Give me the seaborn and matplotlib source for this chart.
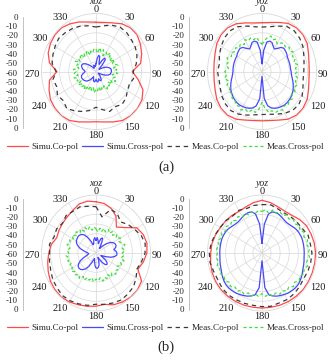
import numpy as np
import pandas as pd
import matplotlib
matplotlib.use("Agg")
import matplotlib.pyplot as plt
from matplotlib.lines import Line2D
from matplotlib.transforms import ScaledTranslation
import seaborn as sns

sns.set_style("white")
plt.rcParams['font.family'] = ['Liberation Serif', 'DejaVu Serif']

# ---------------- data (dB) ----------------
ANG10 = list(range(0, 360, 10))
ANG5 = list(range(0, 360, 5))
THETA_TICKS = list(range(0, 360, 30))

# (a) xoz
a_xoz_simu_co = [-9, -8.5, -6.5, -3, -1, -1, -3.5, -6.5, -10, -20, -13, -5, -1.5, -0.5, -0.5, -1.5, -4.5, -7,
                 -8, -7, -4.5, -1.5, -0.5, -1, -2, -5, -8, -17, -8, -4, -2, -1, -1, -3, -5.5, -8]
a_xoz_meas_co = [-14, -12, -9, -7, -7.5, -9, -10, -12, -15, -19, -18, -21, -20, -17, -15.5, -18, -16, -20,
                 -23, -19, -16, -13, -10, -13, -11, -14, -12, -16, -11, -9.5, -8, -6.5, -7.5, -8.5, -10, -12]
a_xoz_simu_x = [-52, -47, -43, -44, -50, -52, -47, -43, -44, -50, -55, -56, -54, -50, -47, -45, -43.5, -43,
                -43, -43.5, -44, -46, -49, -53, -56, -57, -56, -54, -52, -50, -49, -50, -52, -50, -49, -50,
                -52, -50, -49, -50, -52, -54, -53, -50, -48, -46, -45, -44, -43.5, -43, -43, -43.5, -45, -47,
                -48, -47, -45, -44, -43, -43, -44, -46, -49, -52, -54, -56, -56, -55, -53, -54, -55, -54]
a_xoz_meas_x = [-37, -41, -35, -39, -36, -42, -37, -40, -35, -39, -37, -42, -36, -40, -38, -35, -41, -37,
                -39, -36, -42, -38, -40, -36, -41, -38, -43, -39, -41, -38, -43, -40, -42, -39, -44, -40,
                -42, -38, -43, -40, -44, -39, -41, -37, -42, -38, -40, -36, -41, -37, -39, -35, -40, -36,
                -38, -35, -41, -37, -39, -35, -40, -36, -38, -35, -41, -37, -39, -36, -42, -38, -40, -36]

# (a) yoz
a_yoz_simu_co = [-9.5, -8.5, -6, -2.5, -1, -1, -2.5, -5.5, -7.5, -8, -7.5, -5.5, -2.5, -1, -1, -3, -6.5, -8.5,
                 -9, -8.5, -6.5, -3, -1, -1, -2.5, -5, -6.5, -7, -6.5, -5, -2.5, -1, -1, -3, -6.5, -9]
a_yoz_meas_co = [-14, -13, -10, -6, -5, -6, -8, -11, -13, -14, -14, -12, -9, -7, -7.5, -10, -13, -15,
                 -15.5, -14.5, -12, -9, -7, -7.5, -9, -11, -12, -11, -12.5, -10, -8, -6, -5, -6.5, -10, -13]
a_yoz_simu_x = [-52, -38, -29, -27.5, -28, -31, -33, -31, -27.5, -26, -26.5, -27, -28, -28.5, -28.5, -28.5,
                -28.5, -28.5, -28, -27.5, -26.5, -25, -23.5, -22, -20.5, -19.5, -18.5, -18, -17.5, -17.5,
                -18, -18.5, -19.5, -21, -24, -32,
                -55, -32, -24, -21, -19.5, -18.5, -18, -17.5, -17.5, -18, -18.5, -19.5, -20.5, -22, -23.5,
                -25, -26.5, -27.5, -28, -28, -28, -28, -28, -28, -28, -27, -26.5, -26, -27.5, -31, -33,
                -31, -28, -27.5, -29, -38]
a_yoz_meas_x = [-32, -28, -24, -22, -25, -23, -27, -24, -22, -24, -21, -23, -20, -23, -21, -24, -20, -23,
                -21, -24, -20, -22, -19, -21, -18, -20, -16, -18, -15, -17, -14, -16, -15, -18, -17, -22,
                -28, -21, -17, -19, -15, -17, -14, -16, -15, -18, -17, -20, -18, -21, -19, -22, -18, -21,
                -19, -23, -20, -22, -19, -23, -21, -24, -22, -25, -23, -26, -22, -25, -23, -26, -24, -29]

# (b) xoz
b_xoz_simu_co = [-7, -8, -11, -16, -25, -19, -8, -4.5, -3, -4, -7, -11, -2, -0.5, -0.5, -1.5, -3, -6,
                 -5, -4, -3, -1.5, -0.5, -1, -2, -4, -6, -8, -10, -14, -13, -12, -11, -9, -6, -5.5]
b_xoz_meas_co = [-12, -22, -12, -13, -18, -14, -11, -7, -5, -6, -9, -12, -9, -6, -5, -4, -5, -6,
                 -7, -5, -4, -3, -2.5, -4, -5, -7, -8, -9, -8, -11, -10, -12, -9, -10, -9, -11]
b_xoz_simu_x = [-47, -44, -47, -50, -44, -43, -47, -52, -54, -50, -45, -41, -38.5, -37, -36.5, -37.5, -40, -38,
                -37, -37, -39, -43, -49, -54, -52, -47, -44, -43, -44.5, -48, -53, -55, -51, -47, -45, -44,
                -44.5, -47, -51, -54, -53, -49, -44, -40, -37.5, -36, -35.5, -36, -38, -41, -45, -49, -51, -52,
                -51, -49, -46, -42, -39, -36.5, -35, -34.5, -34, -34, -35, -37, -41, -46, -51, -50, -46, -44]
b_xoz_meas_x = [-35, -38, -34, -37, -33, -36, -32, -35, -31, -34, -30, -33, -29, -32, -30, -27, -31, -28,
                -31, -29, -32, -28, -31, -29, -33, -30, -32, -29, -33, -30, -34, -31, -33, -30, -34, -31,
                -33, -30, -34, -31, -33, -29, -32, -28, -31, -28, -30, -27, -30, -28, -31, -28, -30, -27,
                -30, -28, -31, -27, -30, -28, -31, -28, -32, -29, -33, -30, -34, -31, -35, -32, -36, -33]

# (b) yoz
b_yoz_simu_co = [-5.5, -7, -9, -10, -9, -6, -3.5, -2.5, -1.5, -1, -1, -1, -1, -1, -1.5, -2, -2.5, -3,
                 -3, -3, -2.5, -2, -1.5, -1, -1, -1.5, -2.5, -3.5, -4, -5.5, -7, -8, -9, -10, -9, -7]
b_yoz_meas_co = [-10, -9, -11, -12, -11, -10, -9, -6, -6, -5, -5.5, -6, -7, -6, -5, -4.5, -5, -4,
                 -4.5, -5, -4.5, -4, -3, -3, -4, -3.5, -2, -2, -3, -5, -7, -8, -10, -9, -11, -10]
b_yoz_simu_x = [-50, -30, -19, -16, -15.5, -16, -17, -18, -18.5, -18, -17, -15.5, -14.5, -14, -13.5, -13.5,
                -13.5, -13.5, -13.5, -13.5, -13, -12.5, -12, -11, -10, -9, -8.5, -8.5, -9, -9.5, -10.5,
                -11.5, -12.5, -14, -16, -24,
                -52, -24, -16, -14, -12.5, -11.5, -10.5, -9.5, -9, -8.5, -8.5, -9, -10, -11, -12, -12.5,
                -13, -13.5, -13.5, -13.5, -13.5, -13.5, -13.5, -14, -14.5, -15.5, -17, -18, -18.5, -18,
                -17, -16, -15.5, -16, -19, -30]
b_yoz_meas_x = [-17, -15, -18, -14, -16, -13, -15, -12, -14, -11, -13, -10, -12, -9, -11, -8, -10, -7.5,
                -9, -7.5, -10, -8, -11, -9, -12, -10, -13, -11, -14, -12, -15, -13, -16, -14, -17, -15,
                -18, -15, -17, -14, -16, -13, -15, -12, -14, -11, -13, -10, -12, -9.5, -11, -9, -11, -9.5,
                -11, -10, -12, -10, -13, -11, -14, -12, -15, -13, -16, -14, -17, -15, -18, -16, -18, -16]

SERIES = ["Simu.Co-pol", "Simu.Cross-pol", "Meas.Co-pol", "Meas.Cross-pol"]
COLORS = {"Simu.Co-pol": "#ff4a4a", "Simu.Cross-pol": "#4646ff",
          "Meas.Co-pol": "#3a3a3a", "Meas.Cross-pol": "#3ee03e"}
DASHES = {"Simu.Co-pol": None, "Simu.Cross-pol": None,
          "Meas.Co-pol": (3.5, 3.0), "Meas.Cross-pol": (2.5, 2.0)}

PANELS = [
    ("xoz", 0, 71.5, [a_xoz_simu_co, a_xoz_simu_x, a_xoz_meas_co, a_xoz_meas_x]),
    ("yoz", 166, 71.5, [a_yoz_simu_co, a_yoz_simu_x, a_yoz_meas_co, a_yoz_meas_x]),
    ("xoz", 0, 253, [b_xoz_simu_co, b_xoz_simu_x, b_xoz_meas_co, b_xoz_meas_x]),
    ("yoz", 166, 253, [b_yoz_simu_co, b_yoz_simu_x, b_yoz_meas_co, b_yoz_meas_x]),
]

W, H = 332, 361
fig = plt.figure(figsize=(W / 100, H / 100), dpi=100)
RH, RV = 54.5, 58.0
GRID = '#d8d8d8'
GAP = 0.9  # points between ring and angle label

for title, ox, cy, vals in PANELS:
    cx = ox + 96
    ax = fig.add_axes([(cx - RH) / W, 1 - (cy + RV) / H, 2 * RH / W, 2 * RV / H], projection='polar')
    ax.set_aspect('auto')
    ax.set_theta_zero_location('N')
    ax.set_theta_direction(-1)
    for name, v in zip(SERIES, vals):
        ang = ANG10 if len(v) == 36 else ANG5
        df = pd.DataFrame({"theta": np.deg2rad(list(ang) + [360]), "gain": list(v) + [v[0]]})
        kw = dict(color=COLORS[name], lw=0.9)
        if DASHES[name] is not None:
            kw["dashes"] = DASHES[name]
        sns.lineplot(data=df, x="theta", y="gain", ax=ax, sort=False, estimator=None, legend=False, **kw)
    ax.set_ylim(-60, 0)
    ax.set_yticks([-50, -40, -30, -20, -10])
    ax.set_yticklabels([])
    ax.set_xticks(np.deg2rad(THETA_TICKS))
    ax.set_xticklabels([])
    ax.tick_params(axis='both', length=0)
    ax.grid(True, color=GRID, lw=0.5)
    ax.spines['polar'].set_color(GRID)
    ax.spines['polar'].set_linewidth(0.6)
    ax.set_xlabel('')
    ax.set_ylabel('')
    # angle labels just outside the outer ring
    for a in THETA_TICKS:
        s, c = np.sin(np.deg2rad(a)), np.cos(np.deg2rad(a))
        ha = 'left' if s > 0.01 else ('right' if s < -0.01 else 'center')
        va = 'baseline' if c > 0.01 else ('top' if c < -0.01 else 'center_baseline')
        dx = GAP * np.sign(round(s, 3)) / 72
        dy = GAP * np.sign(round(c, 3)) / 72
        if va == 'center_baseline':
            dy = -1.2 / 72
        ax.text(np.deg2rad(a), 0, str(a), ha=ha, va=va, fontsize=7.5, color='#1a1a1a', clip_on=False,
                transform=ax.transData + ScaledTranslation(dx, dy, fig.dpi_scale_trans))
    fig.text(cx / W, 1 - (cy - 69.5) / H, title, ha='center', va='center', style='italic', fontsize=7)

    # linear dB scale on the left
    sx = ox + 23
    sa = fig.add_axes([sx / W, 1 - (cy + 1 + 55.5) / H, 0.5 / W, 111 / H])
    sa.set_ylim(-60, 60)
    sa.set_xlim(0, 1)
    for s in ['top', 'right', 'bottom']:
        sa.spines[s].set_visible(False)
    sa.spines['left'].set_color('#b8b8b8')
    sa.spines['left'].set_linewidth(0.6)
    ticks = list(range(-60, 61, 10))
    sa.set_yticks(ticks)
    sa.set_yticklabels([str(-(60 - abs(t))) if t not in (-60, 60) else '0' for t in ticks])
    sa.set_xticks([])
    sa.tick_params(axis='y', length=1.5, width=0.5, color='#b8b8b8', labelsize=6.5, pad=2)
    sa.patch.set_alpha(0)

handles = [Line2D([], [], color=COLORS[n], lw=0.9,
                  **({"dashes": DASHES[n]} if DASHES[n] else {})) for n in SERIES]
for ly, lab, lab_y in [(147, '(a)', 167), (328, '(b)', 347)]:
    fig.legend(handles, SERIES, loc='center', bbox_to_anchor=(0.5, 1 - ly / H), ncol=4, frameon=False,
               fontsize=6.6, handlelength=2.3, handletextpad=0.35, columnspacing=0.4,
               borderaxespad=0, borderpad=0)
    fig.text(0.5, 1 - lab_y / H, lab, ha='center', va='center', fontsize=10.5)

fig.savefig("out.png", dpi=100)
